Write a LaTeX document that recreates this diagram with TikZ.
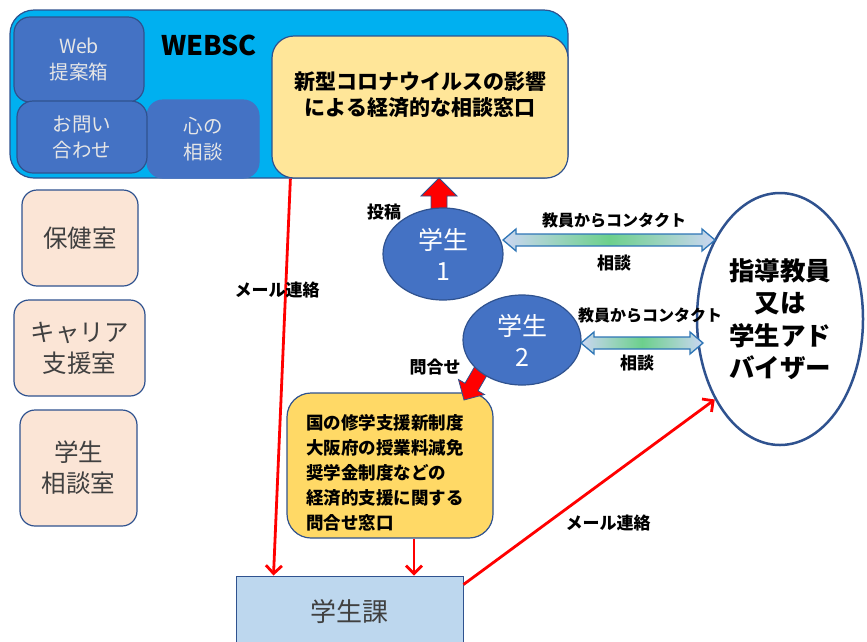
\documentclass[tikz,border=0pt]{standalone}
\usepackage{fontspec}
\setmainfont{Noto Sans CJK JP}
\usetikzlibrary{arrows.meta,shapes.geometric,calc}
\definecolor{cyanbg}{HTML}{00B0F0}
\definecolor{bdr}{HTML}{2F528F}
\definecolor{bluebox}{HTML}{4472C4}
\definecolor{lightyel}{HTML}{FFE699}
\definecolor{yel}{HTML}{FFD966}
\definecolor{peach}{HTML}{FBE5D6}
\definecolor{skyb}{HTML}{BDD7EE}
\definecolor{txtgray}{HTML}{404040}
\definecolor{boxtxt}{HTML}{E6E6E6}
\definecolor{arrlight}{HTML}{CBD6F2}
\definecolor{arrgreen}{HTML}{6CD08C}
\definecolor{arrbdr}{HTML}{2E75B6}
\definecolor{redc}{HTML}{FF0000}
\begin{document}
\begin{tikzpicture}[x=1pt,y=-1pt,
  rbox/.style={draw=bdr, line width=1.2pt, rounded corners=#1, inner sep=0pt, align=center},
  rbox/.default=15pt,
  bluet/.style={text=boxtxt, font=\fontsize{19.5}{26}\selectfont},
  roomt/.style={text=txtgray, font=\fontsize{24.5}{31}\selectfont},
  stud/.style={ellipse, draw=bdr, line width=1.2pt, fill=bluebox, inner sep=0pt, align=center, text=white, font=\fontsize{25}{31}\selectfont},
  redline/.style={draw=redc, line width=2.8pt, -{Straight Barb[length=8pt,width=16pt]}},
  blockarr/.style={fill=redc, draw=bdr, line width=0.8pt},
  dblarr/.style={left color=arrlight, right color=arrlight, middle color=arrgreen, draw=arrbdr, line width=1.3pt},
  lbl/.style={font=\bfseries\fontsize{17}{19}\selectfont, inner sep=1pt},
  lblc/.style={font=\bfseries\fontsize{16}{19}\selectfont, inner sep=1pt}
]
\useasboundingbox (0,0) rectangle (867,641);

% WEBSC panel
\node[rbox=24pt, fill=cyanbg, minimum width=558pt, minimum height=168pt] (websc) at (289,94) {};
\node[rbox=16pt, fill=bluebox, minimum width=130pt, minimum height=85pt, bluet] (webbox) at (79,59.5) {Web\\提案箱};
\node[rbox=16pt, draw=bluebox, fill=bluebox, minimum width=112pt, minimum height=78pt, bluet] (kokoro) at (203,139) {心の\\相談};
\node[rbox=16pt, fill=bluebox, minimum width=130pt, minimum height=72pt, bluet] (toi) at (82,137) {お問い\\合わせ};
\node[font=\bfseries\fontsize{27}{30}\selectfont] (webscl) at (209,45) {WEBSC};
\node[rbox=22pt, fill=lightyel, minimum width=296pt, minimum height=142pt] (corona) at (420,107) {};
\node[font=\bfseries\fontsize{21}{26}\selectfont, align=center] (coronat) at (420,95) {新型コロナウイルスの影響\\による経済的な相談窓口};

% left rooms
\node[rbox=15pt, fill=peach, minimum width=116pt, minimum height=96pt, roomt] (hoken) at (80,238) {保健室};
\node[rbox=15pt, fill=peach, minimum width=131pt, minimum height=96pt, roomt] (career) at (79.5,348) {キャリア\\支援室};
\node[rbox=15pt, fill=peach, minimum width=117pt, minimum height=116pt, roomt] (soudan) at (78.5,468) {学生\\相談室};

% support window
\node[rbox=24pt, fill=yel, minimum width=206pt, minimum height=145pt] (kuni) at (390,465.5) {};
\node[font=\bfseries\fontsize{17.5}{25}\selectfont, align=left, anchor=west, inner sep=0pt] (kunit) at (306,473) {国の修学支援新制度\\大阪府の授業料減免\\奨学金制度などの\\経済的支援に関する\\問合せ窓口};

% student affairs
\node[draw=bdr, line width=1pt, fill=skyb, minimum width=227pt, minimum height=72pt, roomt, font=\fontsize{26}{30}\selectfont] (gk) at (349.5,612) {学生課};

% advisor
\node[ellipse, draw=bdr, line width=2.5pt, fill=white, minimum width=166pt, minimum height=252pt, inner sep=0pt, align=center, font=\bfseries\fontsize{25.5}{32.5}\selectfont] (shidou) at (780,319) {指導教員\\又は\\学生アド\\バイザー};

% red mail lines
\draw[redline] ($(corona.south west)+(19,0)$) -- ($(gk.north west)+(38,0)$);
\draw[redline] ($(kuni.south)+(24,0)$) -- ($(gk.north)+(64.5,0)$);
\draw[redline] ($(gk.north east)+(0,9)$) -- (shidou.231);

% block arrows
\path[blockarr] (439,178) -- (457,196) -- (447,196) -- (447,215) -- (431,215) -- (431,196) -- (421,196) -- cycle;
\path[blockarr] (464,400) -- (484.5,394.5) -- (478,390.75) -- (490.5,369.2) -- (477.5,361.7) -- (465,383.25) -- (458.5,379.5) -- cycle;

% students
\node[stud, minimum width=120pt, minimum height=92pt] (s1) at (443,254) {学生\\1};
\node[stud, minimum width=118pt, minimum height=90pt] (s2) at (522,340) {学生\\2};

% double arrows
\shadedraw[dblarr] (503,240) -- (516,229) -- (516,234) -- (702,234) -- (702,229) -- (715,240) -- (702,251) -- (702,246) -- (516,246) -- (516,251) -- cycle;
\shadedraw[dblarr] (581,343) -- (594,332) -- (594,337) -- (690,337) -- (690,332) -- (703,343) -- (690,354) -- (690,349) -- (594,349) -- (594,354) -- cycle;

% labels
\node[lbl] (lm1) at (277,290) {メール連絡};
\node[lbl] (ltoukou) at (384,212) {投稿};
\node[lbl] (ltoi) at (435,367) {問合せ};
\node[lblc] (lc1) at (614,220) {教員からコンタクト};
\node[lbl] (ls1) at (614,263) {相談};
\node[lblc] (lc2) at (650,315) {教員からコンタクト};
\node[lbl] (ls2) at (637,363) {相談};
\node[lbl] (lm2) at (608,523) {メール連絡};
\end{tikzpicture}
\end{document}
